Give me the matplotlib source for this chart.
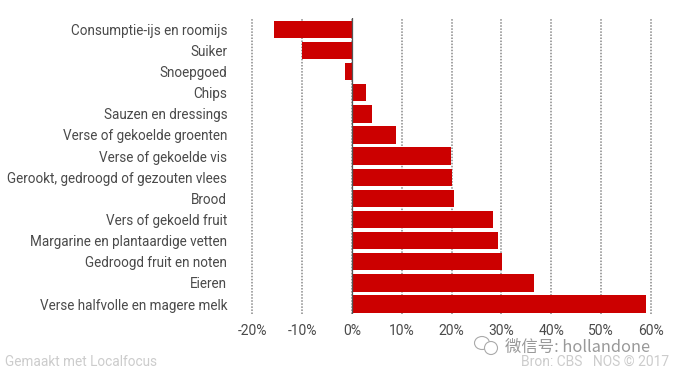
import matplotlib
matplotlib.use('Agg')
import matplotlib.pyplot as plt
from matplotlib.patches import Ellipse

categories = ["Consumptie-ijs en roomijs", "Suiker", "Snoepgoed", "Chips", "Sauzen en dressings",
              "Verse of gekoelde groenten", "Verse of gekoelde vis", "Gerookt, gedroogd of gezouten vlees",
              "Brood", "Vers of gekoeld fruit", "Margarine en plantaardige vetten",
              "Gedroogd fruit en noten", "Eieren", "Verse halfvolle en magere melk"]
values = [-15.6, -10.1, -1.3, 2.8, 4.0, 8.8, 19.9, 20.0, 20.5, 28.3, 29.4, 30.2, 36.6, 58.9]
ticks = [-20, -10, 0, 10, 20, 30, 40, 50, 60]

W, H = 678, 382
plt.rcParams['font.family'] = ['Roboto', 'DejaVu Sans']

fig = plt.figure(figsize=(W / 100, H / 100), dpi=100)
ax = fig.add_axes([252.3 / W, 1 - 314 / H, (651 - 252.3) / W, (314 - 18) / H])

ax.barh(range(len(categories)), values, height=0.82, color='#cc0000', zorder=3)
ax.axvline(0, color='#555555', linewidth=0.9, zorder=4)
ax.set_xlim(-20, 60)
ax.set_ylim(13.47, -0.535)

ax.set_xticks(ticks)
ax.set_xticklabels([f'{t}%' for t in ticks], fontsize=10, color='#4a4a4a')
ax.set_yticks(range(len(categories)))
ax.set_yticklabels(categories, fontsize=9.75, color='#4a4a4a')
ax.tick_params(axis='both', length=0)
ax.tick_params(axis='x', pad=7)
ax.tick_params(axis='y', pad=18)
ax.grid(True, axis='x', linestyle=(0, (1, 1)), color='#888888', linewidth=1.1, zorder=1, clip_on=False)
for s in ax.spines.values():
    s.set_visible(False)

# footer
fig.text(5 / W, 1 - 362 / H, 'Gemaakt met Localfocus', fontsize=9.8, color='#cccccc', va='center')
fig.text(669 / W, 1 - 362 / H, 'Bron: CBS   NOS © 2017', fontsize=10, color='#cccccc', va='center', ha='right')

# watermark
fig.text(505 / W, 1 - 347 / H, '微信号: hollandone', fontsize=11.8, color='#999999', va='center',
         family=['Noto Sans CJK SC', 'DejaVu Sans'])
fig.add_artist(Ellipse((482 / W, 1 - 343 / H), 15 / W, 13 / H, fill=False, ec='#aaaaaa', lw=0.8,
                       transform=fig.transFigure))
fig.add_artist(Ellipse((491 / W, 1 - 348 / H), 13 / W, 13 / H, fc='white', ec='#aaaaaa', lw=0.8,
                       transform=fig.transFigure))

fig.savefig('out.png', dpi=100)
